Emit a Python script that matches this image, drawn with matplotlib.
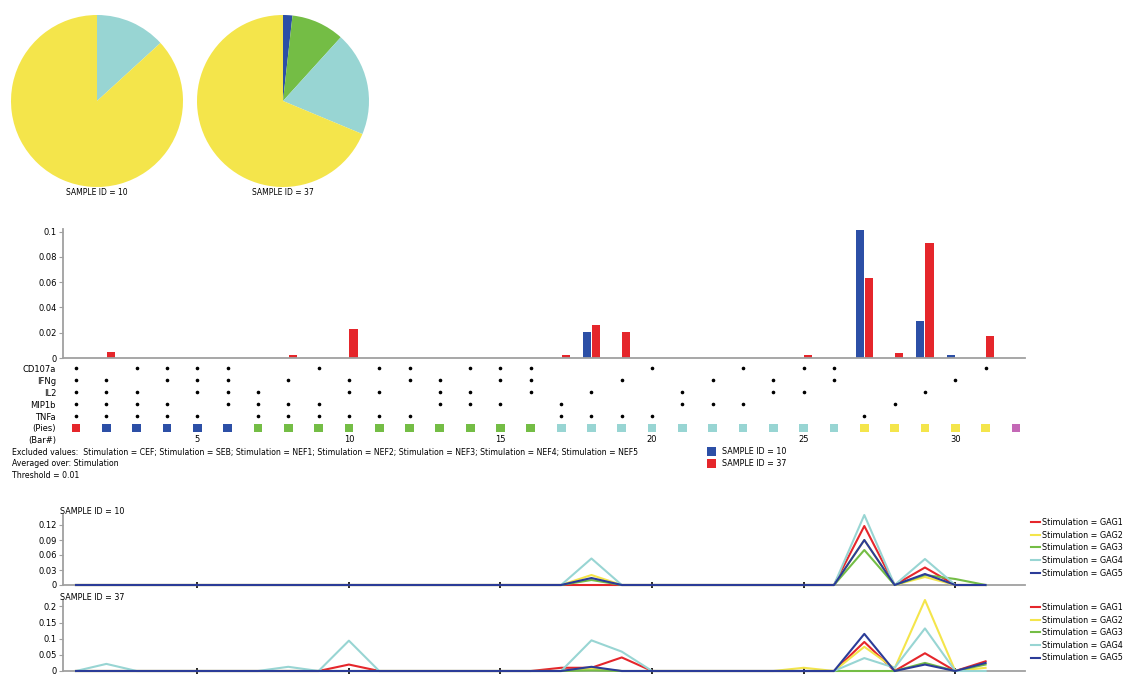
import matplotlib
matplotlib.use('Agg')
import matplotlib.pyplot as plt
from matplotlib.patches import Rectangle

plt.rcParams['font.family'] = ['DejaVu Sans']
plt.rcParams['font.size'] = 6

W, H = 1133, 675


# pixel -> figure fraction helpers
def fx(x):
    return x / W


def fy(y):
    return 1 - y / H


# ---- data ----
markers = ['CD107a', 'IFNg', 'IL2', 'MIP1b', 'TNFa']
bar_ids = list(range(1, 33))
marker_on = {
    'CD107a': [1, 3, 4, 5, 6, 9, 11, 12, 14, 15, 16, 20, 23, 25, 26, 31],
    'IFNg': [1, 2, 4, 5, 6, 8, 10, 12, 13, 15, 16, 19, 22, 24, 26, 30],
    'IL2': [1, 2, 3, 5, 6, 7, 10, 11, 13, 14, 16, 18, 21, 24, 25, 29],
    'MIP1b': [1, 2, 3, 4, 6, 7, 8, 9, 13, 14, 15, 17, 21, 22, 23, 28],
    'TNFa': [1, 2, 3, 4, 5, 7, 8, 9, 10, 11, 12, 17, 18, 19, 20, 27],
}
sample_names = ['SAMPLE ID = 10', 'SAMPLE ID = 37']
bars_10 = [0, 0, 0, 0, 0, 0, 0, 0, 0, 0,
           0, 0, 0, 0, 0, 0, 0, 0.0202, 0, 0,
           0, 0, 0, 0, 0, 0, 0.1016, 0, 0.0291, 0.002,
           0, 0]
bars_37 = [0, 0.0045, 0, 0, 0, 0, 0, 0.0026, 0, 0.0228,
           0, 0, 0, 0, 0, 0, 0.002, 0.0257, 0.0202, 0,
           0, 0, 0, 0, 0.002, 0, 0.0635, 0.0037, 0.0908, 0,
           0.0173, 0]
bar_ticks = [5, 10, 15, 20, 25, 30]

stims = ['Stimulation = GAG1', 'Stimulation = GAG2', 'Stimulation = GAG3',
         'Stimulation = GAG4', 'Stimulation = GAG5']
line_x = list(range(1, 32))
lines_10 = [
    [0, 0, 0, 0, 0, 0, 0, 0, 0, 0, 0, 0, 0, 0, 0, 0, 0, 0, 0, 0,
     0, 0, 0, 0, 0, 0, 0.118, 0, 0.035, 0, 0],
    [0, 0, 0, 0, 0, 0, 0, 0, 0, 0, 0, 0, 0, 0, 0, 0, 0, 0.020, 0, 0,
     0, 0, 0, 0, 0, 0, 0.090, 0, 0.016, 0, 0],
    [0, 0, 0, 0, 0, 0, 0, 0, 0, 0, 0, 0, 0, 0, 0, 0, 0, 0.010, 0, 0,
     0, 0, 0, 0, 0, 0, 0.070, 0, 0.020, 0.012, 0],
    [0, 0, 0, 0, 0, 0, 0, 0, 0, 0, 0, 0, 0, 0, 0, 0, 0, 0.053, 0, 0,
     0, 0, 0, 0, 0, 0, 0.140, 0, 0.052, 0, 0],
    [0, 0, 0, 0, 0, 0, 0, 0, 0, 0, 0, 0, 0, 0, 0, 0, 0, 0.014, 0, 0,
     0, 0, 0, 0, 0, 0, 0.090, 0, 0.022, 0, 0],
]
lines_37 = [
    [0, 0, 0, 0, 0, 0, 0, 0, 0, 0.020, 0, 0, 0, 0, 0, 0, 0.010, 0.010, 0.042, 0,
     0, 0, 0, 0, 0, 0, 0.090, 0, 0.055, 0, 0.030],
    [0, 0, 0, 0, 0, 0, 0, 0, 0, 0, 0, 0, 0, 0, 0, 0, 0, 0.008, 0, 0,
     0, 0, 0, 0, 0.010, 0, 0.075, 0.008, 0.220, 0, 0.010],
    [0, 0, 0, 0, 0, 0, 0, 0, 0, 0, 0, 0, 0, 0, 0, 0, 0, 0.002, 0, 0,
     0, 0, 0, 0, 0, 0, 0, 0, 0.025, 0, 0.020],
    [0, 0.022, 0, 0, 0, 0, 0, 0.013, 0, 0.094, 0, 0, 0, 0, 0, 0, 0, 0.095, 0.060, 0,
     0, 0, 0, 0, 0, 0, 0.040, 0.010, 0.132, 0, 0],
    [0, 0, 0, 0, 0, 0, 0, 0, 0, 0, 0, 0, 0, 0, 0, 0, 0, 0.013, 0, 0,
     0, 0, 0, 0, 0, 0, 0.115, 0, 0.020, 0, 0.025],
]

# colours
RED = '#e5262b'
BLUE = '#2c4fa6'
GREEN = '#74bd45'
CYAN = '#98d5d3'
YELLOW = '#f4e54b'
MAGENTA = '#c468b6'
NAVY = '#2b3c98'
count_colors = {5: RED, 4: BLUE, 3: GREEN, 2: CYAN, 1: YELLOW, 0: MAGENTA}
line_colors = [RED, YELLOW, GREEN, CYAN, NAVY]
AXGRAY = '#a0a0a0'

# number of markers on per bar -> pie category
n_on = [sum(b in marker_on[m] for m in markers) for b in bar_ids]

fig = plt.figure(figsize=(W / 100, H / 100), dpi=100)

# ---- pies ----
for k, (bars, name) in enumerate([(bars_10, sample_names[0]), (bars_37, sample_names[1])]):
    left = 11 + k * 186
    pax = fig.add_axes([fx(left), fy(187), 172 / W, 172 / H])
    vals, cols = [], []
    for c in [5, 4, 3, 2, 1]:
        s = sum(v for v, n in zip(bars, n_on) if n == c)
        if s > 0:
            vals.append(s)
            cols.append(count_colors[c])
    pax.pie(vals, colors=cols, startangle=90, counterclock=False,
            wedgeprops=dict(linewidth=0))
    pax.set_xlim(-1, 1)
    pax.set_ylim(-1, 1)
    pax.set_aspect('equal')
    fig.text(fx(left + 86), fy(192), name, ha='center', va='center', fontsize=5.5)

# ---- bar chart ----
xl = (0.57, 32.3)
axw = (1025 - 63) / W
bax = fig.add_axes([fx(63), fy(358), axw, (358 - 229) / H])
bw = 0.27
bax.bar([b - 0.15 for b in bar_ids], bars_10, width=bw, color=BLUE)
bax.bar([b + 0.15 for b in bar_ids], bars_37, width=bw, color=RED)
bax.set_xlim(*xl)
bax.set_ylim(0, 0.102)
bax.set_yticks([0, 0.02, 0.04, 0.06, 0.08, 0.1])
bax.set_yticklabels(['0', '0.02', '0.04', '0.06', '0.08', '0.1'])
bax.set_xticks([])
for s in ['top', 'right']:
    bax.spines[s].set_visible(False)
for s in ['left', 'bottom']:
    bax.spines[s].set_color(AXGRAY)
    bax.spines[s].set_linewidth(1.3)
bax.tick_params(axis='y', length=3, color=AXGRAY, labelsize=6, pad=1.5)

# ---- marker matrix ----
max_ = fig.add_axes([fx(63), fy(446), axw, 84 / H])
max_.set_xlim(*xl)
max_.set_ylim(6.5, -0.5)
for i, m in enumerate(markers):
    max_.plot(marker_on[m], [i] * len(marker_on[m]), 'o', color='black', markersize=1.6)
max_.scatter(bar_ids, [5] * len(bar_ids), marker='s', s=40,
             c=[count_colors[n] for n in n_on], linewidths=0)
for t in bar_ticks:
    max_.text(t, 6, str(t), ha='center', va='center', fontsize=6)
max_.set_yticks(range(7))
max_.set_yticklabels(markers + ['(Pies)', '(Bar#)'], fontsize=6)
max_.tick_params(axis='y', length=0, pad=5)
max_.set_xticks([])
for s in max_.spines.values():
    s.set_visible(False)
max_.patch.set_alpha(0)

fig.text(fx(12), fy(452), 'Excluded values:  Stimulation = CEF; Stimulation = SEB; '
         'Stimulation = NEF1; Stimulation = NEF2; Stimulation = NEF3; '
         'Stimulation = NEF4; Stimulation = NEF5', va='center', fontsize=5.6)
fig.text(fx(12), fy(464), 'Averaged over: Stimulation', va='center', fontsize=5.6)
fig.text(fx(12), fy(476), 'Threshold = 0.01', va='center', fontsize=5.6)

for j, (c, name) in enumerate([(BLUE, sample_names[0]), (RED, sample_names[1])]):
    yc = 451 + j * 12
    fig.add_artist(Rectangle((fx(707), fy(yc + 4.5)), 9 / W, 9 / H,
                             transform=fig.transFigure, color=c, linewidth=0))
    fig.text(fx(722), fy(yc), name, va='center', fontsize=5.8)

# ---- line panels ----
panels = [(lines_10, sample_names[0], 585, 515, 0.14, [0, 0.03, 0.06, 0.09, 0.12],
           ['0', '0.03', '0.06', '0.09', '0.12']),
          (lines_37, sample_names[1], 671, 600, 0.22, [0, 0.05, 0.1, 0.15, 0.2],
           ['0', '0.05', '0.1', '0.15', '0.2'])]
for series, name, ybot, ytop, ymax, yt, ytl in panels:
    lax = fig.add_axes([fx(63), fy(ybot), axw, (ybot - ytop) / H])
    for vals, col, lab in zip(series, line_colors, stims):
        lax.plot(line_x, vals, color=col, linewidth=1.5, label=lab,
                 zorder=3, clip_on=False)
    lax.set_xlim(*xl)
    lax.set_ylim(0, ymax)
    lax.set_yticks(yt)
    lax.set_yticklabels(ytl)
    lax.set_xticks(bar_ticks)
    lax.set_xticklabels([])
    lax.tick_params(axis='x', length=4, width=1.2, color='black', direction='inout')
    lax.tick_params(axis='y', length=3, color=AXGRAY, labelsize=6, pad=1.5)
    for s in ['top', 'right']:
        lax.spines[s].set_visible(False)
    for s in ['left', 'bottom']:
        lax.spines[s].set_color(AXGRAY)
        lax.spines[s].set_linewidth(1.3)
    lax.patch.set_alpha(0)
    fig.text(fx(60), fy(ytop - 3), name, va='center', fontsize=5.8)
    lax.legend(loc='upper left', bbox_to_anchor=(fx(1031), fy(ytop + 3)),
               bbox_transform=fig.transFigure, frameon=False, fontsize=5.8,
               handlelength=1.1, handletextpad=0.3, labelspacing=0.45,
               borderaxespad=0, borderpad=0)

fig.savefig('out.png', dpi=100)
